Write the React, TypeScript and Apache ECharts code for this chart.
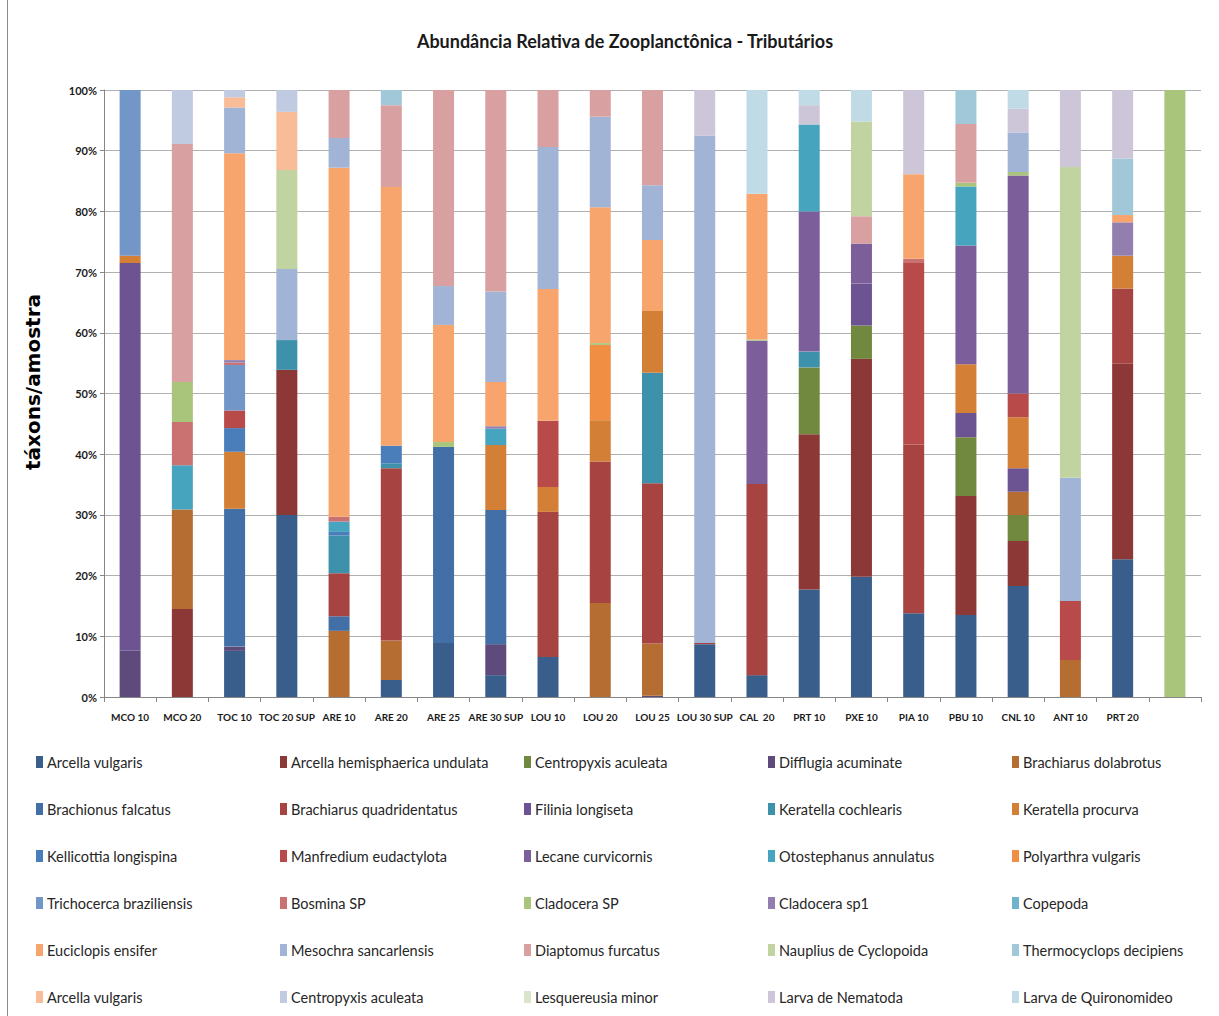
import React, { useEffect, useRef } from "react";
import * as echarts from "echarts";

const categories = ["MCO 10", "MCO 20", "TOC 10", "TOC 20 SUP", "ARE 10", "ARE 20", "ARE 25", "ARE 30 SUP", "LOU 10", "LOU 20", "LOU 25", "LOU 30 SUP", "CAL  20", "PRT 10", "PXE 10", "PIA 10", "PBU 10", "CNL 10", "ANT 10", "PRT 20", ""];

const seriesNames = [
  "Arcella vulgaris", "Arcella hemisphaerica undulata", "Centropyxis aculeata", "Difflugia acuminate", "Brachiarus dolabrotus",
  "Brachionus falcatus", "Brachiarus quadridentatus", "Filinia longiseta", "Keratella cochlearis", "Keratella procurva",
  "Kellicottia longispina", "Manfredium eudactylota", "Lecane curvicornis", "Otostephanus annulatus", "Polyarthra vulgaris",
  "Trichocerca braziliensis", "Bosmina SP", "Cladocera SP", "Cladocera sp1", "Copepoda",
  "Euciclopis ensifer", "Mesochra sancarlensis", "Diaptomus furcatus", "Nauplius de Cyclopoida", "Thermocyclops decipiens",
  "Arcella vulgaris#2", "Centropyxis aculeata#2", "Lesquereusia minor", "Larva de Nematoda", "Larva de Quironomideo",
];

const seriesColors = [
  "#3a5e8c", "#8c3836", "#71893f", "#5f4b7b", "#b66d31",
  "#4270a6", "#a74442", "#6c5492", "#3e91aa", "#d47f36",
  "#4a7ebb", "#b84b4a", "#7c5f9a", "#46a4bf", "#f08f43",
  "#7396c8", "#ca7271", "#a9c47b", "#927fb0", "#6fb3cc",
  "#f7a56c", "#a2b4d5", "#d8a0a0", "#c1d3a1", "#a0c8d9",
  "#f9bc98", "#c0cbe2", "#d9e4ca", "#cdc6d8", "#c0dbe5",
];

const arcellaVulgaris = [0, 0, 7.6, 30, 0, 2.8, 8.9, 3.6, 6.6, 0, 0, 8.7, 3.6, 17.7, 19.8, 13.8, 13.5, 18.3, 0, 22.7, 0];
const arcellaHemisphaerica = [0, 14.5, 0, 23.9, 0, 0, 0, 0, 0, 0, 0, 0, 0, 25.6, 35.9, 0, 19.6, 7.4, 0, 32.2, 0];
const centropyxisAculeata = [0, 0, 0, 0, 0, 0, 0, 0, 0, 0, 0, 0, 0, 11.0, 5.5, 0, 9.7, 4.3, 0, 0, 0];
const difflugiaAcuminate = [7.6, 0, 0.7, 0, 0, 0, 0, 5.1, 0, 0, 0.2, 0, 0, 0, 0, 0, 0, 0, 0, 0, 0];
const brachiarusDolabrotus = [0, 16.4, 0, 0, 10.9, 6.5, 0, 0, 0, 15.5, 8.6, 0, 0, 0, 0, 0, 0, 3.8, 6.1, 0, 0];
const brachionusFalcatus = [0, 0, 22.7, 0, 2.4, 0, 32.3, 22.1, 0, 0, 0, 0, 0, 0, 0, 0, 0, 0, 0, 0, 0];
const brachiarusQuadridentatus = [0, 0, 0, 0, 7.1, 28.4, 0, 0, 23.9, 23.3, 26.4, 0.2, 31.5, 0, 0, 27.8, 0, 0, 0, 12.4, 0];
const filiniaLongiseta = [63.9, 0, 0, 0, 0, 0, 0, 0, 0, 0, 0, 0, 0, 0, 6.9, 0, 4.0, 3.9, 0, 0, 0];
const keratellaCochlearis = [0, 0, 0, 4.9, 6.2, 0.8, 0, 0, 0, 0, 18.2, 0, 0, 2.6, 0, 0, 0, 0, 0, 0, 0];
const keratellaProcurva = [1.2, 0, 9.4, 0, 0, 0, 0, 10.7, 4.1, 6.8, 10.2, 0, 0, 0, 0, 0, 8.0, 8.4, 0, 5.4, 0];
const kellicottiaLongispina = [0, 0, 3.9, 0, 0.6, 2.9, 0, 0, 0, 0, 0, 0, 0, 0, 0, 0, 0, 0, 0, 0, 0];
const manfrediumEudactylota = [0, 0, 2.9, 0, 0, 0, 0, 0, 10.9, 0, 0, 0, 0, 0, 0, 29.9, 0, 3.9, 9.7, 0, 0];
const lecaneCurvicornis = [0, 0, 0, 0, 0, 0, 0, 0, 0, 0, 0, 0, 23.6, 23.1, 6.6, 0, 19.6, 35.9, 0, 0, 0];
const otostephanusAnnulatus = [0, 7.3, 0, 0, 1.7, 0, 0, 2.7, 0, 0, 0, 0, 0, 14.3, 0, 0, 9.7, 0, 0, 0, 0];
const polyarthraVulgaris = [0, 0, 0, 0, 0, 0, 0, 0, 0, 12.4, 0, 0, 0, 0, 0, 0, 0, 0, 0, 0, 0];
const trichocercaBraziliensis = [27.3, 0, 7.5, 0, 0, 0, 0, 0, 0, 0, 0, 0, 0, 0, 0, 0, 0, 0, 0, 0, 0];
const bosminaSP = [0, 7.1, 0.4, 0, 0.8, 0, 0, 0, 0, 0, 0, 0, 0, 0, 0, 0.7, 0, 0, 0, 0, 0];
const cladoceraSP = [0, 6.6, 0, 0, 0, 0, 0.8, 0, 0, 0.3, 0, 0, 0.2, 0, 0, 0, 0.6, 0.6, 0, 0, 100];
const cladoceraSp1 = [0, 0, 0.4, 0, 0, 0, 0, 0.4, 0, 0, 0, 0, 0, 0, 0, 0, 0, 0, 0, 5.5, 0];
const copepoda = [0, 0, 0, 0, 0, 0, 0, 0, 0, 0, 0, 0, 0, 0, 0, 0, 0, 0, 0, 0, 0];
const euciclopisEnsifer = [0, 0, 34.1, 0, 57.5, 42.6, 19.3, 7.3, 21.7, 22.4, 11.7, 0, 24.0, 0, 0, 13.9, 0, 0, 0, 1.2, 0];
const mesochraSancarlensis = [0, 0, 7.5, 11.7, 4.9, 0, 6.4, 14.9, 23.4, 14.9, 9.0, 83.6, 0, 0, 0, 0, 0, 6.5, 20.3, 0, 0];
const diaptomusFurcatus = [0, 39.2, 0, 0, 7.9, 13.5, 32.3, 33.2, 9.4, 4.4, 15.7, 0, 0, 0, 4.5, 0, 9.7, 0, 0, 0, 0];
const naupliusCyclopoida = [0, 0, 0, 16.3, 0, 0, 0, 0, 0, 0, 0, 0, 0, 0, 15.6, 0, 0, 0, 51.2, 0, 0];
const thermocyclopsDecipiens = [0, 0, 0, 0, 0, 2.5, 0, 0, 0, 0, 0, 0, 0, 0, 0, 0, 5.6, 0, 0, 9.3, 0];
const arcellaVulgaris2 = [0, 0, 1.7, 9.6, 0, 0, 0, 0, 0, 0, 0, 0, 0, 0, 0, 0, 0, 0, 0, 0, 0];
const centropyxisAculeata2 = [0, 8.9, 1.2, 3.6, 0, 0, 0, 0, 0, 0, 0, 0, 0, 0, 0, 0, 0, 0, 0, 0, 0];
const lesquereusiaMinor = [0, 0, 0, 0, 0, 0, 0, 0, 0, 0, 0, 0, 0, 0, 0, 0, 0, 0, 0, 0, 0];
const larvaNematoda = [0, 0, 0, 0, 0, 0, 0, 0, 0, 0, 0, 7.5, 0, 3.2, 0, 13.9, 0, 3.9, 12.7, 11.3, 0];
const larvaQuironomideo = [0, 0, 0, 0, 0, 0, 0, 0, 0, 0, 0, 0, 17.1, 2.5, 5.2, 0, 0, 3.1, 0, 0, 0];

const seriesValues = [
  arcellaVulgaris, arcellaHemisphaerica, centropyxisAculeata, difflugiaAcuminate, brachiarusDolabrotus,
  brachionusFalcatus, brachiarusQuadridentatus, filiniaLongiseta, keratellaCochlearis, keratellaProcurva,
  kellicottiaLongispina, manfrediumEudactylota, lecaneCurvicornis, otostephanusAnnulatus, polyarthraVulgaris,
  trichocercaBraziliensis, bosminaSP, cladoceraSP, cladoceraSp1, copepoda,
  euciclopisEnsifer, mesochraSancarlensis, diaptomusFurcatus, naupliusCyclopoida, thermocyclopsDecipiens,
  arcellaVulgaris2, centropyxisAculeata2, lesquereusiaMinor, larvaNematoda, larvaQuironomideo,
];

const yTicks = [0, 10, 20, 30, 40, 50, 60, 70, 80, 90, 100];

const NARROW = "Lato, 'Open Sans', sans-serif";

export default function App() {
  const ref = useRef<HTMLDivElement>(null);
  useEffect(() => {
    if (!ref.current) return;
    const chart = echarts.init(ref.current, undefined, { renderer: "svg" });
    const colLefts = [31, 275, 519, 763, 1007];
    const legends = colLefts.map((left, c) => ({
      orient: "vertical",
      left,
      top: 748,
      itemWidth: 7,
      itemHeight: 12,
      itemGap: 29,
      icon: "rect",
      selectedMode: false,
      data: [0, 1, 2, 3, 4, 5].map((r) => seriesNames[r * 5 + c]),
      formatter: (name: string) => name.replace(/#\d+$/, ""),
      textStyle: { fontFamily: NARROW, fontSize: 14.5, lineHeight: 18, color: "#262626", padding: [0, 0, 0, -1] },
    }));
    chart.setOption({
      animation: false,
      backgroundColor: "#ffffff",
      title: {
        text: "Abundância Relativa de Zooplanctônica - Tributários",
        left: 620,
        top: 27,
        textAlign: "center",
        textStyle: { fontFamily: NARROW, fontSize: 18, fontWeight: "bold", color: "#1a1a1a" },
      },
      graphic: [
        { type: "line", shape: { x1: 7.5, y1: 0, x2: 7.5, y2: 1016 }, style: { stroke: "#8c8c8c", lineWidth: 1 } },
        {
          type: "text",
          x: 33,
          y: 382,
          rotation: Math.PI / 2,
          style: {
            text: "táxons/amostra",
            fill: "#000",
            font: "bold 20px 'DejaVu Sans', sans-serif",
            align: "center",
            verticalAlign: "middle",
          },
        },
      ],
      legend: legends,
      grid: { left: 104, right: 18, top: 90, bottom: 319 },
      xAxis: {
        type: "category",
        data: categories,
        axisLine: { lineStyle: { color: "#868686" } },
        axisTick: { show: true, length: 5, lineStyle: { color: "#868686" } },
        axisLabel: { interval: 0, margin: 15, fontFamily: NARROW, fontSize: 10, fontWeight: "bold", color: "#1a1a1a" },
      },
      yAxis: {
        type: "value",
        min: 0,
        max: 100,
        interval: 10,
        axisLine: { show: true, lineStyle: { color: "#868686" } },
        axisTick: { show: true, length: 4, lineStyle: { color: "#868686" } },
        splitLine: { lineStyle: { color: "#b0b0b0" } },
        axisLabel: {
          fontFamily: NARROW,
          fontSize: 11,
          fontWeight: "bold",
          color: "#1a1a1a",
          margin: 7,
          formatter: (v: number) => (yTicks.includes(v) ? v + "%" : ""),
        },
      },
      series: seriesNames.map((name, i) => ({
        name,
        type: "bar",
        stack: "total",
        barWidth: 21,
        itemStyle: { color: seriesColors[i] },
        data: seriesValues[i],
      })),
    });
    return () => chart.dispose();
  }, []);
  return (
    <div
      ref={ref}
      style={{ position: "fixed", left: 0, top: 0, width: 1219, height: 1016, background: "#fff" }}
    />
  );
}
